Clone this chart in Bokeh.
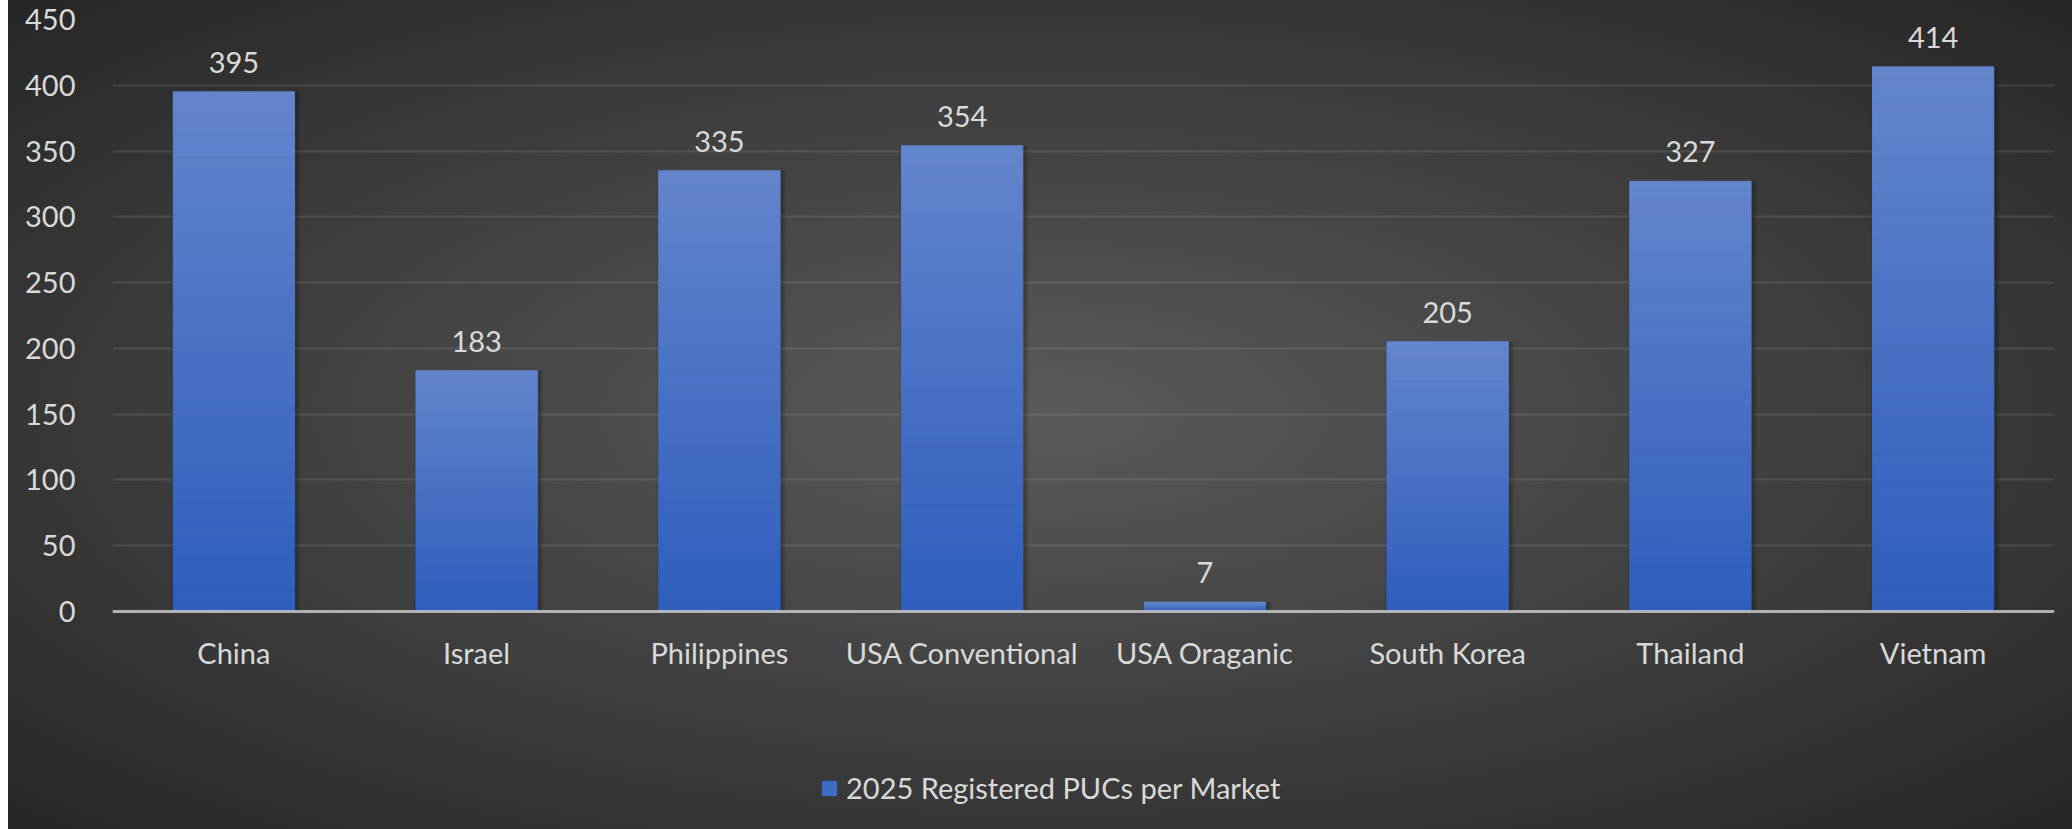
from bokeh.plotting import figure
from bokeh.models import (ColumnDataSource, LabelSet, Legend, LegendItem,
                          FactorRange, Range1d, FixedTicker, CategoricalAxis)
from bokeh.core.properties import value
from bokeh.transform import dodge
from bokeh.embed import file_html
from bokeh.resources import INLINE

categories = ["China", "Israel", "Philippines", "USA Conventional",
              "USA Oraganic", "South Korea", "Thailand", "Vietnam"]
values = [395, 183, 335, 354, 7, 205, 327, 414]
series_name = "2025 Registered PUCs per Market"
y_ticks = [0, 50, 100, 150, 200, 250, 300, 350, 400, 450]

FONT = "Lato"
FS = "29px"
TEXT = "#d9d9d9"
BOTTOM_RGB = (46, 94, 189)
TOP_RGB = (99, 133, 204)
N = 48

# gradient slices for each bar, derived from the data values
xs, bots, tops, cols = [], [], [], []
for c, v in zip(categories, values):
    for k in range(N):
        t = (k + 0.5) / N
        r = [round(b + (a - b) * t) for a, b in zip(TOP_RGB, BOTTOM_RGB)]
        xs.append(c)
        bots.append(v * k / N)
        tops.append(v * (k + 1) / N)
        cols.append("#%02x%02x%02x" % tuple(r))
bars = ColumnDataSource(dict(x=xs, bottom=bots, top=tops, color=cols))
main = ColumnDataSource(dict(x=categories, y=values, text=[str(v) for v in values]))

# frame: 450 at 19px from top, 0 at 611px, frame bottom at 829px
scale = (611 - 19) / 450.0
p = figure(x_range=FactorRange(*categories, range_padding=0),
           y_range=Range1d(-(829 - 611) / scale, 450),
           x_axis_location=None,
           width=2072, height=829, output_backend="svg", toolbar_location=None,
           min_border_left=112, min_border_right=18, min_border_top=19,
           min_border_bottom=0)
p.styles = {"background": "linear-gradient(to right, #ffffff 0px, #ffffff 8px, transparent 8px), "
                          "radial-gradient(ellipse at 50% 50%, #5a5a5a 0%, #3e3e3e 55%, #262626 100%)"}
p.border_fill_alpha = 0
p.background_fill_alpha = 0
p.outline_line_color = None

# soft drop shadow behind bars
p.vbar(x=dodge("x", 0.008, range=p.x_range), top="y", bottom=0, width=0.53, source=main,
       fill_color="black", fill_alpha=0.10, line_color=None)
p.vbar(x=dodge("x", 0.006, range=p.x_range), top="y", bottom=0, width=0.515, source=main,
       fill_color="black", fill_alpha=0.15, line_color=None)

r = p.vbar(x="x", bottom="bottom", top="top", width=0.5, source=bars,
           fill_color="color", line_color="color", line_width=1)

p.add_layout(LabelSet(x="x", y="y", text="text", source=main,
                      text_align="center", text_baseline="alphabetic", y_offset=19,
                      text_font=value(FONT), text_font_size=FS, text_color=TEXT))

p.yaxis.ticker = FixedTicker(ticks=y_ticks)
p.yaxis.axis_line_color = None
p.yaxis.major_tick_line_color = None
p.yaxis.minor_tick_line_color = None
p.yaxis.major_label_standoff = 31
p.yaxis.major_label_text_font = FONT
p.yaxis.major_label_text_font_size = FS
p.yaxis.major_label_text_color = TEXT

xaxis = CategoricalAxis(fixed_location=0)
xaxis.axis_line_color = "#c4c4c4"
xaxis.axis_line_alpha = 0.85
xaxis.axis_line_width = 3
xaxis.major_tick_line_color = None
xaxis.minor_tick_line_color = None
xaxis.major_label_standoff = 17
xaxis.major_label_text_font = FONT
xaxis.major_label_text_font_size = FS
xaxis.major_label_text_color = TEXT
p.add_layout(xaxis, "below")

p.xgrid.grid_line_color = None
p.ygrid.grid_line_color = "#ffffff"
p.ygrid.grid_line_alpha = 0.1
p.ygrid.grid_line_width = 2

legend = Legend(items=[LegendItem(label=series_name, renderers=[r], index=N // 3)],
                location=(708, 24), orientation="horizontal",
                padding=0, margin=0, spacing=0,
                glyph_width=18, glyph_height=18, label_standoff=8,
                border_line_color=None, background_fill_alpha=0,
                label_text_font=FONT, label_text_font_size=FS,
                label_text_color=TEXT)
p.add_layout(legend)

open("out.html", "w").write(file_html(p, INLINE))
